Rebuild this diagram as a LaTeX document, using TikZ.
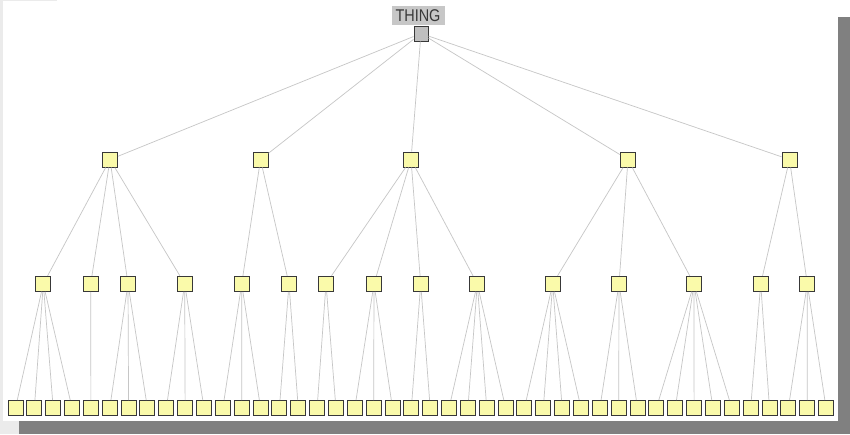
\documentclass[tikz,border=0pt]{standalone}
\usepackage{fontspec}
\setmainfont{Liberation Sans}
\usetikzlibrary{positioning}
\definecolor{boxyellow}{HTML}{FAFAAA}
\definecolor{boxline}{HTML}{383838}
\definecolor{linkgray}{HTML}{C6C6C6}
\definecolor{shadowgray}{HTML}{808080}
\definecolor{framegray}{HTML}{EBEBEB}
\tikzset{
  % boxes of the hierarchy
  class box/.style={draw=boxline, line width=1pt, fill=boxyellow,
    minimum width=15pt, minimum height=15pt, inner sep=0pt},
  root box/.style={class box, fill=black!25!white, minimum width=14pt},
  % thin connector from parent to child
  link/.style={draw=linkgray, line width=0.7pt},
}

\begin{document}
\begin{tikzpicture}[x=1pt, y=-1pt]
                \useasboundingbox (0,0) rectangle (850,434);
                \fill[white] (0,0) rectangle (850,434);
                \fill[framegray] (0,0) rectangle (3,434);
                \fill[framegray] (0,421) rectangle (19,434);
                \fill[framegray] (3,0) rectangle (57,1);
                \fill[shadowgray] (19,17) rectangle (850,434);
                \fill[white] (3,1) rectangle (838,421);

                \node[root box] (thing) at (421,33.5) {};
                \node[fill=black!22!white, text=black!78, inner sep=0pt,
                  minimum width=53pt, minimum height=19pt,
                  above=0pt of thing, xshift=-3pt,
                  font=\fontsize{17}{17}\selectfont] (thinglabel) {\scalebox{0.85}[1]{THING}};

                \foreach \x [count=\i] in {110,260.5,411,628,789.5}
                \node[class box] (k\i) at (\x,159.5) {};

                \foreach \x [count=\i] in {43.3,90.7,128,184.7,241.7,289,326,374,420.7,477.3,552.7,619,694,760.7,807.3}
                \node[class box] (m\i) at (\x,283.8) {};

                \foreach \i in {1,...,44}
                \node[class box] (l\i) at ({15.5+18.85*(\i-1)},408) {};

                \foreach \i in {1,...,5}
                \draw[link] (thing) -- (k\i);

                \foreach \p/\c in {1/1,1/2,1/3,1/4,2/5,2/6,3/7,3/8,3/9,3/10,4/11,4/12,4/13,5/14,5/15}
                \draw[link] (k\p) -- (m\c);

                \foreach \p/\first/\last in {1/1/4,2/5/5,3/6/8,4/9/11,5/12/14,6/15/16,7/17/18,8/19/21,9/22/23,10/24/27,11/28/31,12/32/34,13/35/39,14/40/41,15/42/44}
                \foreach \c in {\first,...,\last}
                {
                \draw[link] (m\p) -- (l\c);
                }
            \end{tikzpicture}
\end{document}
